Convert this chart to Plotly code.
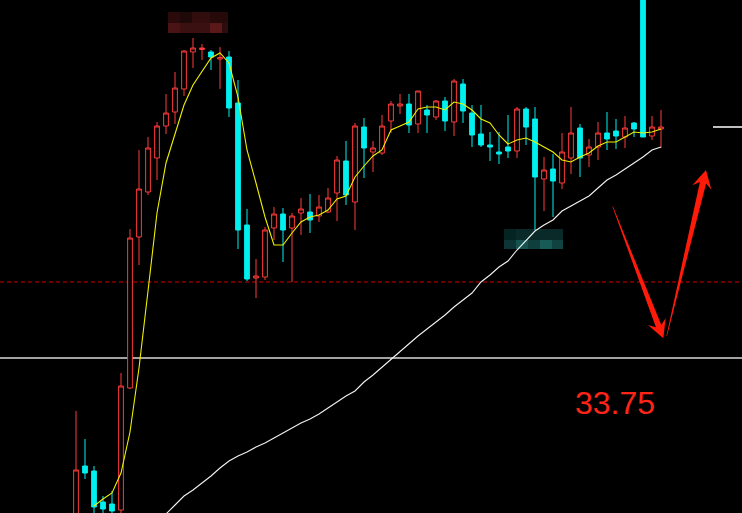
import plotly.graph_objects as go

# ---------------- data ----------------
day_index = list(range(66))

open_ = [30.31, 31.59, 31.49, 30.87, 30.83, 30.71, 33.15, 36.17, 37.07, 37.75,
         38.39, 38.67, 39.13, 39.87, 39.92, 39.87, 39.73, 39.77, 38.85, 36.41,
         35.35, 35.37, 36.35, 36.63, 36.35, 36.65, 36.67, 36.59, 36.67, 37.05,
         37.69, 36.87, 38.37, 37.87, 37.85, 38.49, 38.79, 38.83, 38.43, 38.71,
         38.57, 38.89, 38.47, 39.23, 38.65, 38.23, 38.01, 37.87, 37.97, 37.89,
         38.73, 38.53, 37.33, 37.53, 37.25, 37.75, 38.35, 37.81, 37.97, 38.25,
         38.29, 38.17, 38.45, 42.91, 38.19, 38.33]
high = [32.69, 32.13, 31.59, 30.99, 31.09, 33.45, 36.33, 37.91, 38.17, 38.47,
        39.03, 39.47, 39.91, 40.15, 40.03, 39.91, 39.97, 39.89, 39.31, 36.73,
        35.73, 36.37, 36.77, 36.75, 36.65, 36.95, 37.03, 37.01, 37.15, 37.79,
        38.09, 38.45, 38.55, 38.09, 38.61, 38.89, 39.03, 39.03, 39.09, 38.81,
        38.91, 38.97, 39.33, 39.33, 38.81, 38.81, 38.27, 38.27, 38.61, 38.77,
        38.77, 38.77, 37.77, 37.83, 38.25, 38.77, 38.43, 38.13, 38.47, 38.67,
        38.53, 38.59, 38.47, 42.91, 38.59, 38.71]
low = [30.11, 31.33, 30.51, 30.55, 30.59, 30.65, 33.13, 35.61, 37.01, 37.31,
       38.23, 38.43, 38.99, 39.55, 39.71, 39.51, 39.13, 38.57, 35.93, 35.29,
       34.95, 35.31, 36.11, 35.67, 35.27, 36.21, 36.25, 36.47, 36.65, 36.49,
       36.81, 36.31, 37.35, 37.47, 37.81, 38.25, 38.63, 38.25, 38.25, 38.25,
       38.51, 38.29, 38.19, 38.45, 37.97, 37.97, 37.69, 37.63, 37.75, 37.75,
       38.01, 36.31, 36.69, 36.57, 37.13, 37.43, 37.37, 37.57, 37.71, 37.91,
       37.93, 37.95, 38.17, 38.17, 38.11, 37.95]
close = [31.51, 31.45, 30.77, 30.73, 30.69, 33.19, 36.15, 37.13, 37.95, 38.39,
         38.65, 39.15, 39.89, 39.95, 39.95, 39.77, 39.76, 38.75, 36.31, 35.33,
         35.39, 36.31, 36.63, 36.31, 36.59, 36.73, 36.51, 36.77, 36.95, 37.71,
         37.01, 38.39, 37.95, 37.95, 38.39, 38.83, 38.83, 38.41, 39.09, 38.61,
         38.89, 38.49, 39.29, 38.69, 38.21, 38.01, 37.97, 37.83, 37.89, 38.73,
         38.37, 37.37, 37.51, 37.29, 37.87, 38.25, 37.75, 37.97, 38.25, 38.13,
         38.19, 38.35, 38.33, 38.17, 38.37, 38.37]

ma_short = [None, None, 30.79, 30.93, 31.05, 31.45, 32.27, 33.55, 35.09, 36.65,
            37.65, 38.25, 38.81, 39.21, 39.47, 39.75, 39.85, 39.65, 38.97, 37.91,
            37.25, 36.57, 36.01, 36.01, 36.25, 36.47, 36.57, 36.61, 36.71, 36.93,
            36.99, 37.37, 37.59, 37.79, 37.91, 38.31, 38.39, 38.47, 38.73, 38.77,
            38.77, 38.71, 38.87, 38.83, 38.71, 38.53, 38.45, 38.21, 38.03, 38.11,
            38.15, 38.07, 37.97, 37.87, 37.71, 37.67, 37.77, 37.85, 37.99, 38.07,
            38.07, 38.17, 38.27, 38.25, 38.27, 38.33]
ma_long = [None, None, None, None, None, None, None, None, None, 30.49,
           30.63, 30.81, 30.99, 31.11, 31.25, 31.39, 31.55, 31.69, 31.79, 31.87,
           31.97, 32.05, 32.15, 32.25, 32.35, 32.45, 32.53, 32.63, 32.75, 32.87,
           32.99, 33.09, 33.27, 33.41, 33.57, 33.71, 33.87, 34.05, 34.19, 34.33,
           34.47, 34.61, 34.77, 34.91, 35.05, 35.27, 35.41, 35.57, 35.69, 35.91,
           36.11, 36.29, 36.41, 36.51, 36.69, 36.79, 36.89, 36.99, 37.15, 37.31,
           37.41, 37.53, 37.65, 37.77, 37.91, 37.97]

support_level = 33.75
dashed_level = 35.27
last_price = 38.37
support_label = "33.75"

# ---------------- styling ----------------
RED = "#ff3b3b"
CYAN = "#00f0f0"
W, H = 742, 513

fig = go.Figure()
fig.add_trace(go.Candlestick(
    x=day_index, open=open_, high=high, low=low, close=close,
    increasing=dict(line=dict(color=RED, width=1), fillcolor="#000000"),
    decreasing=dict(line=dict(color=CYAN, width=1), fillcolor=CYAN),
    whiskerwidth=0, hoverinfo="skip", showlegend=False,
))
fig.add_trace(go.Scatter(x=day_index, y=ma_short, mode="lines",
                         line=dict(color="#f0f000", width=1.1),
                         hoverinfo="skip", showlegend=False))
fig.add_trace(go.Scatter(x=day_index, y=ma_long, mode="lines",
                         line=dict(color="#f2f2f2", width=1.1),
                         hoverinfo="skip", showlegend=False))


def px(x, y):
    return x / W, 1 - y / H


shapes = []
# price levels
shapes.append(dict(type="line", xref="paper", x0=0, x1=1, yref="y",
                   y0=dashed_level, y1=dashed_level,
                   line=dict(color="#d00000", width=1.2, dash="4px,3px"), layer="below"))
shapes.append(dict(type="line", xref="paper", x0=0, x1=1, yref="y",
                   y0=support_level, y1=support_level,
                   line=dict(color="#d8d8d8", width=1.5), layer="below"))
shapes.append(dict(type="line", xref="paper", x0=713 / W, x1=1, yref="y",
                   y0=last_price, y1=last_price,
                   line=dict(color="#ffffff", width=1.5)))


def arrow_path(tail, tip, w0, w1, head_len, notch_len, head_half):
    import math
    dx, dy = tip[0] - tail[0], tip[1] - tail[1]
    L = math.hypot(dx, dy)
    ux, uy = dx / L, dy / L
    nx, ny = -uy, ux
    bx, by = tip[0] - ux * notch_len, tip[1] - uy * notch_len
    hx, hy = tip[0] - ux * head_len, tip[1] - uy * head_len
    pts = [
        (tail[0] + nx * w0, tail[1] + ny * w0),
        (bx + nx * w1, by + ny * w1),
        (hx + nx * head_half, hy + ny * head_half),
        tip,
        (hx - nx * head_half, hy - ny * head_half),
        (bx - nx * w1, by - ny * w1),
        (tail[0] - nx * w0, tail[1] - ny * w0),
    ]
    s = ""
    for i, (x, y) in enumerate(pts):
        xp, yp = px(x, y)
        s += ("M" if i == 0 else "L") + f"{xp:.5f},{yp:.5f} "
    return s + "Z"


ARROW = "#ff1a0a"
shapes.append(dict(type="path", xref="paper", yref="paper",
                   path=arrow_path((612.7, 206.7), (663.3, 338.3), 0.3, 2.9, 18, 13, 9.5),
                   fillcolor=ARROW, line=dict(width=0)))
shapes.append(dict(type="path", xref="paper", yref="paper",
                   path=arrow_path((666.7, 336.0), (706.0, 170.0), 0.3, 3.2, 18, 13, 9.8),
                   fillcolor=ARROW, line=dict(width=0)))

# pixelated (blurred) label patches
patches = [
    (168, 12, 180, 23, "#2a0a0a"), (180, 12, 192, 23, "#1e0808"),
    (192, 12, 210, 23, "#320d0d"), (210, 12, 228, 23, "#260909"),
    (168, 23, 180, 33, "#4a1414"), (180, 23, 210, 33, "#3a1010"),
    (210, 23, 222, 33, "#5a1818"), (222, 23, 228, 33, "#2c0c0c"),
    (504, 229, 516, 240, "#042424"), (516, 229, 563, 240, "#0a2a2a"),
    (504, 240, 516, 249, "#0d3535"), (516, 240, 528, 249, "#155250"),
    (528, 240, 540, 249, "#0f3f3d"), (540, 240, 552, 249, "#185a56"),
    (552, 240, 563, 249, "#0f4240"),
]
for x0, y0, x1, y1, c in patches:
    a0, b0 = px(x0, y0)
    a1, b1 = px(x1, y1)
    shapes.append(dict(type="rect", xref="paper", yref="paper",
                       x0=a0, x1=a1, y0=b1, y1=b0,
                       fillcolor=c, line=dict(width=0), layer="below"))

tx, ty = px(614.5, 403)
fig.update_layout(
    width=W, height=H, autosize=False,
    margin=dict(l=0, r=0, t=0, b=0),
    paper_bgcolor="#000000", plot_bgcolor="#000000",
    boxgap=0.25,
    xaxis=dict(range=[(0 - 76) / 9, (742 - 76) / 9], visible=False,
               showgrid=False, zeroline=False, rangeslider=dict(visible=False),
               fixedrange=True),
    yaxis=dict(range=[30.65, 40.91], visible=False, showgrid=False,
               zeroline=False, fixedrange=True),
    shapes=shapes,
    annotations=[dict(text=support_label, xref="paper", yref="paper", x=tx, y=ty,
                      showarrow=False, xanchor="center", yanchor="middle",
                      font=dict(family="Liberation Sans, Arial, sans-serif",
                                size=32, color="#ff2418"))],
    showlegend=False,
)

fig.write_html(
    "out.html",
    config={"displayModeBar": False},
    post_script="document.body.style.margin='0';document.body.style.background='#000';document.body.style.overflow='hidden';",
)
